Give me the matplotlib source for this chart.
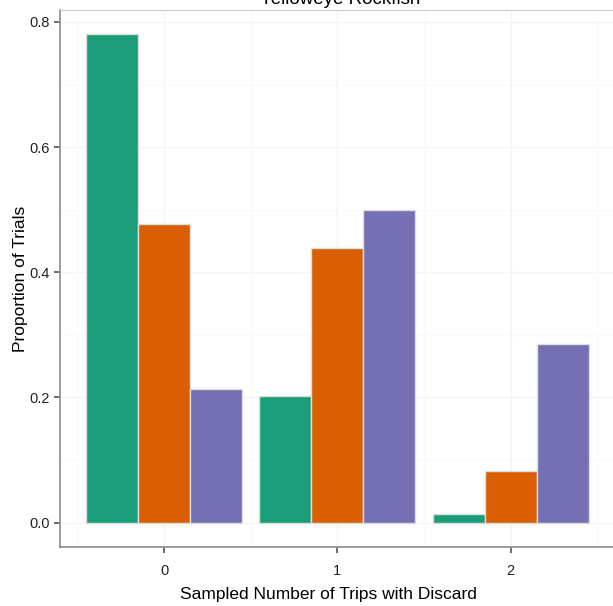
import numpy as np
import matplotlib
matplotlib.use('Agg')
import matplotlib.pyplot as plt

plt.rcParams['font.family'] = ['Liberation Sans', 'DejaVu Sans']

# data
groups = ['0', '1', '2']
series_a = [0.781, 0.203, 0.013]
series_b = [0.477, 0.438, 0.083]
series_c = [0.214, 0.499, 0.285]
colors = ['#1B9E77', '#D95F02', '#7570B3']

fig = plt.figure(figsize=(6.13, 6.06), dpi=100)
ax = fig.add_axes([0.0979, 0.0974, 0.905, 0.886])

x = np.arange(len(groups))
width = 0.3
for i, (vals, c) in enumerate(zip([series_a, series_b, series_c], colors)):
    ax.bar(x + (i - 1) * width, vals, width, color=c, edgecolor='#dddddd',
           linewidth=1, zorder=3)

ax.set_xlim(-0.6, 2.6)
ax.set_ylim(-0.039, 0.819)
ax.set_xticks(x)
ax.set_xticklabels(groups)
ax.set_yticks([0.0, 0.2, 0.4, 0.6, 0.8])
ax.set_yticklabels(['0.0', '0.2', '0.4', '0.6', '0.8'])

# faint grid like theme_bw
for v in [0.0, 0.2, 0.4, 0.6, 0.8]:
    ax.axhline(v, color='#f4f4f4', lw=1, zorder=0)
for v in [0.1, 0.3, 0.5, 0.7]:
    ax.axhline(v, color='#fafafa', lw=0.8, zorder=0)
for v in x:
    ax.axvline(v, color='#f4f4f4', lw=1, zorder=0)
for v in [-0.5, 0.5, 1.5, 2.5]:
    ax.axvline(v, color='#fafafa', lw=0.8, zorder=0)

for s in ['left', 'bottom']:
    ax.spines[s].set_color('#8a8a8a')
    ax.spines[s].set_linewidth(1.2)
for s in ['top', 'right']:
    ax.spines[s].set_color('#cccccc')

ax.tick_params(axis='both', colors='#555555', labelcolor='#222222',
               labelsize=10.5, length=4, width=1.2)
ax.tick_params(axis='x', pad=8)

ax.set_xlabel('Sampled Number of Trips with Discard', fontsize=12.5)
ax.xaxis.set_label_coords(0.483, -0.075)
ax.set_ylabel('Proportion of Trials', fontsize=12.5)
ax.yaxis.set_label_coords(-0.058, 0.5)
fig.text(0.555, 1.0, 'Yelloweye Rockfish', ha='center', va='center', fontsize=13.5)

fig.savefig('out.png', dpi=100)
